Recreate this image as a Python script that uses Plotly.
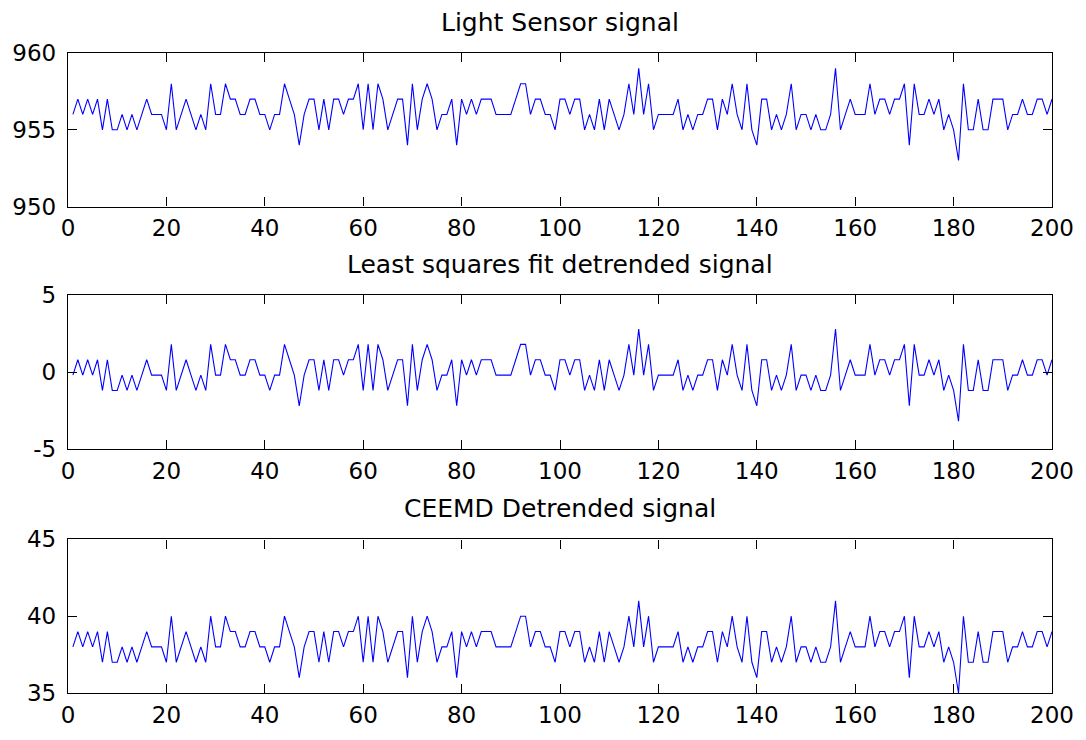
import plotly.graph_objects as go

samples = list(range(1, 201))

light_signal = [
    956, 957, 956, 957, 956, 957, 955, 957, 955, 955,
    956, 955, 956, 955, 956, 957, 956, 956, 956, 955,
    958, 955, 956, 957, 956, 955, 956, 955, 958, 956,
    956, 958, 957, 957, 956, 956, 957, 957, 956, 956,
    955, 956, 956, 958, 957, 956, 954, 956, 957, 957,
    955, 957, 955, 957, 957, 956, 957, 957, 958, 955,
    958, 955, 958, 957, 955, 956, 957, 957, 954, 958,
    955, 957, 958, 957, 955, 956, 956, 957, 954, 957,
    956, 957, 956, 957, 957, 957, 956, 956, 956, 956,
    957, 958, 958, 956, 957, 957, 956, 956, 955, 957,
    957, 956, 957, 957, 955, 956, 955, 957, 955, 957,
    956, 955, 956, 958, 956, 959, 956, 958, 955, 956,
    956, 956, 956, 957, 955, 956, 955, 956, 956, 957,
    957, 955, 957, 956, 958, 956, 955, 958, 955, 954,
    957, 957, 955, 956, 955, 956, 958, 955, 956, 956,
    955, 956, 955, 955, 956, 959, 955, 956, 957, 956,
    956, 956, 958, 956, 957, 957, 956, 957, 957, 958,
    954, 958, 956, 956, 957, 956, 957, 955, 956, 955,
    953, 958, 955, 955, 957, 955, 955, 957, 957, 957,
    955, 956, 956, 957, 956, 956, 957, 957, 956, 957,
]

lsq_detrended = [
    -0.2, 0.8, -0.2, 0.8, -0.2, 0.8, -1.2, 0.8, -1.2, -1.2,
    -0.2, -1.2, -0.2, -1.2, -0.2, 0.8, -0.2, -0.2, -0.2, -1.2,
    1.8, -1.2, -0.2, 0.8, -0.2, -1.2, -0.2, -1.2, 1.8, -0.2,
    -0.2, 1.8, 0.8, 0.8, -0.2, -0.2, 0.8, 0.8, -0.2, -0.2,
    -1.2, -0.2, -0.2, 1.8, 0.8, -0.2, -2.2, -0.2, 0.8, 0.8,
    -1.2, 0.8, -1.2, 0.8, 0.8, -0.2, 0.8, 0.8, 1.8, -1.2,
    1.8, -1.2, 1.8, 0.8, -1.2, -0.2, 0.8, 0.8, -2.2, 1.8,
    -1.2, 0.8, 1.8, 0.8, -1.2, -0.2, -0.2, 0.8, -2.2, 0.8,
    -0.2, 0.8, -0.2, 0.8, 0.8, 0.8, -0.2, -0.2, -0.2, -0.2,
    0.8, 1.8, 1.8, -0.2, 0.8, 0.8, -0.2, -0.2, -1.2, 0.8,
    0.8, -0.2, 0.8, 0.8, -1.2, -0.2, -1.2, 0.8, -1.2, 0.8,
    -0.2, -1.2, -0.2, 1.8, -0.2, 2.8, -0.2, 1.8, -1.2, -0.2,
    -0.2, -0.2, -0.2, 0.8, -1.2, -0.2, -1.2, -0.2, -0.2, 0.8,
    0.8, -1.2, 0.8, -0.2, 1.8, -0.2, -1.2, 1.8, -1.2, -2.2,
    0.8, 0.8, -1.2, -0.2, -1.2, -0.2, 1.8, -1.2, -0.2, -0.2,
    -1.2, -0.2, -1.2, -1.2, -0.2, 2.8, -1.2, -0.2, 0.8, -0.2,
    -0.2, -0.2, 1.8, -0.2, 0.8, 0.8, -0.2, 0.8, 0.8, 1.8,
    -2.2, 1.8, -0.2, -0.2, 0.8, -0.2, 0.8, -1.2, -0.2, -1.2,
    -3.2, 1.8, -1.2, -1.2, 0.8, -1.2, -1.2, 0.8, 0.8, 0.8,
    -1.2, -0.2, -0.2, 0.8, -0.2, -0.2, 0.8, 0.8, -0.2, 0.8,
]

ceemd_detrended = [
    38, 39, 38, 39, 38, 39, 37, 39, 37, 37,
    38, 37, 38, 37, 38, 39, 38, 38, 38, 37,
    40, 37, 38, 39, 38, 37, 38, 37, 40, 38,
    38, 40, 39, 39, 38, 38, 39, 39, 38, 38,
    37, 38, 38, 40, 39, 38, 36, 38, 39, 39,
    37, 39, 37, 39, 39, 38, 39, 39, 40, 37,
    40, 37, 40, 39, 37, 38, 39, 39, 36, 40,
    37, 39, 40, 39, 37, 38, 38, 39, 36, 39,
    38, 39, 38, 39, 39, 39, 38, 38, 38, 38,
    39, 40, 40, 38, 39, 39, 38, 38, 37, 39,
    39, 38, 39, 39, 37, 38, 37, 39, 37, 39,
    38, 37, 38, 40, 38, 41, 38, 40, 37, 38,
    38, 38, 38, 39, 37, 38, 37, 38, 38, 39,
    39, 37, 39, 38, 40, 38, 37, 40, 37, 36,
    39, 39, 37, 38, 37, 38, 40, 37, 38, 38,
    37, 38, 37, 37, 38, 41, 37, 38, 39, 38,
    38, 38, 40, 38, 39, 39, 38, 39, 39, 40,
    36, 40, 38, 38, 39, 38, 39, 37, 38, 37,
    35, 40, 37, 37, 39, 37, 37, 39, 39, 39,
    37, 38, 38, 39, 38, 38, 39, 39, 38, 39,
]

titles = ["Light Sensor signal", "Least squares fit detrended signal", "CEEMD Detrended signal"]
series = [light_signal, lsq_detrended, ceemd_detrended]
y_ranges = [[950, 960], [-5, 5], [35, 45]]
y_ticks = [[950, 955, 960], [-5, 0, 5], [35, 40, 45]]
y_tick_labels = [["950", "955", "960"], ["-5", "0", "5"], ["35", "40", "45"]]
x_ticks = [0, 20, 40, 60, 80, 100, 120, 140, 160, 180, 200]

W, H = 1086, 740
ML, MR, MT, MB = 68, 34, 53, 37
plot_h = H - MT - MB
panel_px = [(53, 209), (299, 455), (547, 703)]

font_family = "DejaVu Sans, Verdana, sans-serif"
FS = 23
TITLE_FS = 25

fig = go.Figure()
annotations = []
for i, (ys, title) in enumerate(zip(series, titles)):
    n = i + 1
    xa = "x" if n == 1 else f"x{n}"
    ya = "y" if n == 1 else f"y{n}"
    fig.add_trace(go.Scatter(
        x=samples, y=ys, mode="lines",
        line=dict(color="#0000FF", width=1.1),
        xaxis=xa, yaxis=ya, showlegend=False, hoverinfo="skip",
    ))
    top, bot = panel_px[i]
    dom = [(H - MB - bot) / plot_h, (H - MB - top) / plot_h]
    axis_common = dict(
        showline=True, linecolor="black", linewidth=1.3, mirror="ticks",
        ticks="inside", ticklen=9, tickwidth=1, tickcolor="black",
        showgrid=False, zeroline=False,
        tickfont=dict(family=font_family, size=FS, color="black"),
    )
    fig.update_layout(**{
        ("xaxis" if n == 1 else f"xaxis{n}"): dict(
            domain=[0, 1], range=[0, 200], tickmode="array", tickvals=x_ticks,
            anchor=ya, ticklabelstandoff=1, **axis_common),
        ("yaxis" if n == 1 else f"yaxis{n}"): dict(
            domain=dom, range=y_ranges[i], tickmode="array", tickvals=y_ticks[i],
            ticktext=y_tick_labels[i],
            anchor=xa, ticklabelstandoff=6, **axis_common),
    })
    annotations.append(dict(
        text=title, x=0.5, xref="paper", y=dom[1], yref="paper",
        xanchor="center", yanchor="middle", yshift=31, showarrow=False,
        font=dict(family=font_family, size=TITLE_FS, color="black"),
    ))

fig.update_layout(
    width=W, height=H,
    margin=dict(l=ML, r=MR, t=MT, b=MB),
    paper_bgcolor="white", plot_bgcolor="white",
    annotations=annotations,
)

fig.write_html("out.html")
